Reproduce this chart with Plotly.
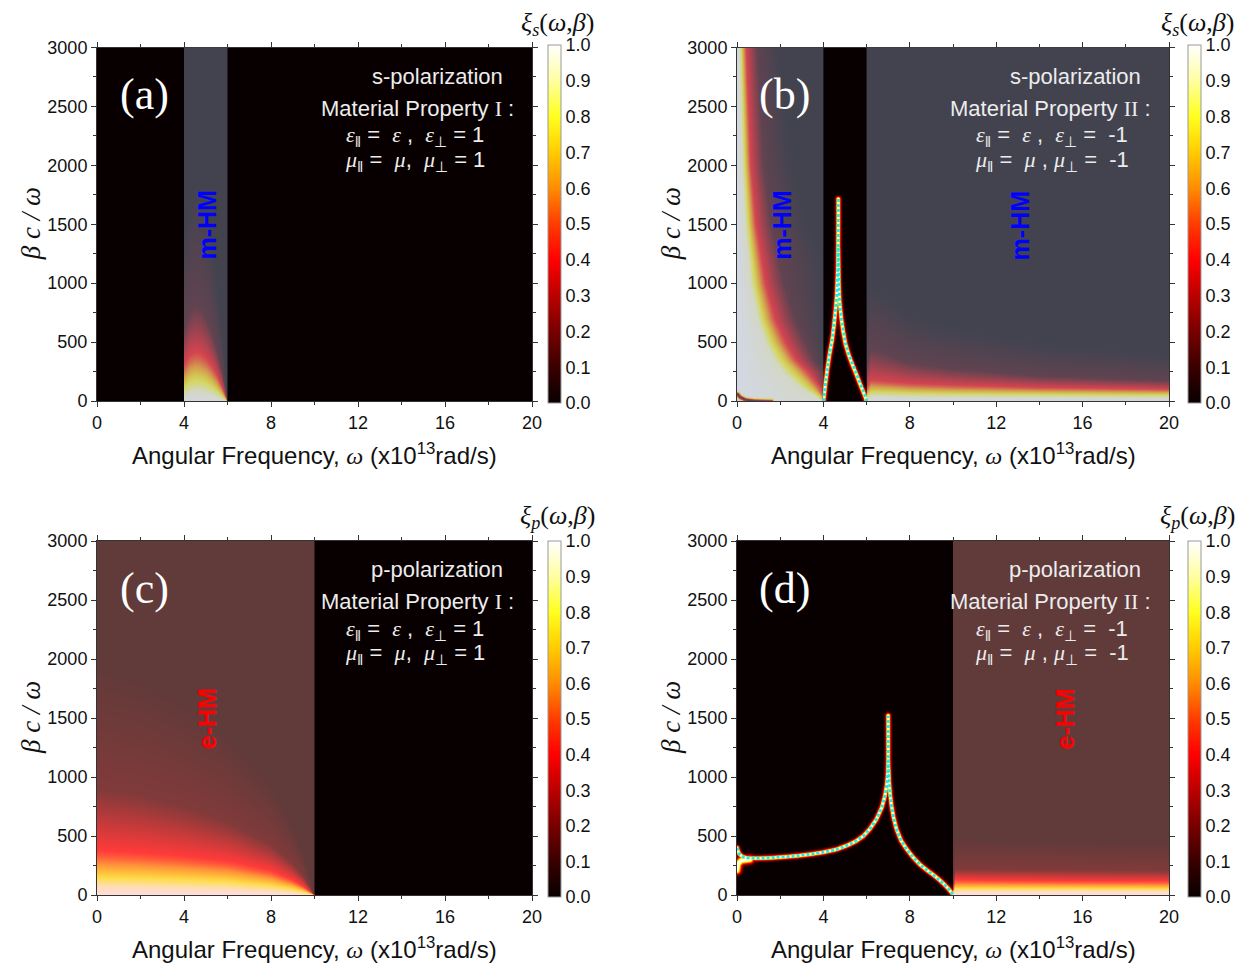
import numpy as np
import plotly.graph_objects as go

# ---------------- values ----------------
OMEGA_TICKS = [0, 4, 8, 12, 16, 20]
BETA_TICKS = [0, 500, 1000, 1500, 2000, 2500, 3000]
CBAR_TICKS = [0.0, 0.1, 0.2, 0.3, 0.4, 0.5, 0.6, 0.7, 0.8, 0.9, 1.0]
LEVELS = [0.95, 0.7, 0.4, 0.1]          # xi levels whose contour positions were read

# (a) s-pol, property I : bright arch inside the m-HM band 4..6 (beta of each level per omega column)
A_OMEGA = [4.0, 4.25, 4.5, 4.75, 5.0, 5.25, 5.5, 5.75, 6.0]
A_HEIGHTS = [[45, 170, 330, 620], [70, 230, 400, 760], [80, 250, 430, 820], [80, 240, 420, 800],
             [70, 220, 380, 720], [60, 180, 320, 600], [40, 130, 240, 450], [20, 70, 130, 260],
             [0, 0, 0, 0]]

# (b) s-pol, property II : left m-HM band (omega of each level per beta row)
B_LEFT_BETA = [0, 50, 120, 250, 350, 500, 700, 1000, 1500, 2000, 3000]
B_LEFT_OMEGA = [[4.0, 4.0, 4.0, 4.0], [3.6, 3.9, 4.0, 4.0], [2.9, 3.5, 3.9, 4.0], [2.1, 2.8, 3.35, 4.0],
                [1.7, 2.3, 2.8, 3.6], [1.3, 1.8, 2.3, 3.2], [0.95, 1.35, 1.8, 2.7],
                [0.62, 0.97, 1.35, 2.2], [0.38, 0.62, 0.9, 1.6], [0.25, 0.44, 0.65, 1.25],
                [0.12, 0.26, 0.44, 0.95]]
B_DIP = [[0.03, 65], [0.15, 40], [0.4, 18], [0.8, 8], [1.6, 3]]
# (b) right m-HM band 6..20 (beta of each level per omega column)
B_RIGHT_OMEGA = [6.0, 6.2, 7.0, 8.0, 10.0, 14.0, 20.0]
B_RIGHT_HEIGHTS = [[20, 60, 120, 300], [45, 110, 190, 450], [45, 105, 175, 400], [42, 95, 160, 330],
                   [40, 88, 145, 280], [38, 80, 125, 220], [35, 72, 110, 180]]
# (b) resonance curve between 4 and 6
B_CURVE_LEFT = [[4.0, 0], [4.08, 130], [4.17, 264], [4.28, 400], [4.4, 520], [4.49, 650], [4.56, 776],
                [4.61, 890], [4.64, 1000], [4.67, 1150], [4.68, 1300], [4.69, 1500], [4.69, 1720]]
B_CURVE_RIGHT = [[4.69, 1300], [4.70, 1150], [4.71, 1003], [4.75, 850], [4.82, 719], [4.91, 600],
                 [5.02, 492], [5.17, 400], [5.33, 321], [5.49, 250], [5.64, 179], [5.80, 105],
                 [5.95, 37], [6.0, 0]]

# (c) p-pol, property I : e-HM band 0..10
C_OMEGA = [0, 2, 4, 6, 8, 9, 9.5, 10]
C_HEIGHTS = [[60, 200, 380, 900], [55, 190, 360, 850], [50, 175, 330, 750], [45, 155, 290, 620],
             [30, 110, 210, 430], [18, 70, 130, 270], [8, 40, 75, 160], [0, 0, 0, 0]]

# (d) p-pol, property II : e-HM band 10..20 and resonance curve 0..10
D_OMEGA = [10.0, 10.1, 12, 16, 20]
D_HEIGHTS = [[5, 15, 30, 60], [30, 70, 130, 220], [30, 70, 125, 215], [30, 68, 120, 210], [28, 65, 118, 205]]
D_CURVE_LEFT = [[0.0, 400], [0.05, 370], [0.1, 350], [0.2, 332], [0.3, 322], [0.45, 315], [0.6, 312],
                [0.9, 311], [1.2, 312], [1.6, 315], [2.0, 320], [2.4, 326], [2.8, 332], [3.4, 345],
                [4.0, 362], [4.6, 386], [5.1, 420], [5.5, 455], [5.85, 500], [6.15, 560], [6.45, 640],
                [6.7, 740], [6.85, 840], [6.93, 930], [6.97, 1000], [6.99, 1080], [7.0, 1150],
                [7.0, 1520]]
D_CURVE_RIGHT = [[7.0, 1150], [7.02, 1050], [7.04, 960], [7.09, 850], [7.15, 760], [7.25, 655],
                 [7.38, 560], [7.6, 460], [7.85, 390], [8.15, 320], [8.46, 260], [8.78, 212],
                 [9.08, 172], [9.33, 135], [9.54, 100], [9.78, 55], [10.0, 5]]
D_EDGE_GLOW = [[0.0, 210], [0.05, 265], [0.2, 292], [0.6, 302]]

# ---------------- grid (one cell per screen pixel) ----------------
NX, NY = 432, 354
PX_PER_OMEGA = 21.6
PX_PER_BETA = 354 / 3000
xs = (np.arange(NX) + 0.5) * 20 / NX
ys = (np.arange(NY) + 0.5) * 3000 / NY
X, Y = np.meshgrid(xs, ys)
PX, PY = X * PX_PER_OMEGA, Y * PX_PER_BETA


def column_field(cols, heights, w0, w1):
    z = np.zeros((NY, NX))
    H = np.array(heights, float).T
    lv = [1.0] + LEVELS + [0.0]
    for j, x in enumerate(xs):
        if x < w0 or x > w1:
            continue
        h = [np.interp(x, cols, H[k]) for k in range(4)]
        if h[-1] <= 1:
            continue
        bp = np.maximum.accumulate(np.array([0.0] + h + [2.2 * h[-1]]) + np.arange(6) * 1e-3)
        z[:, j] = np.interp(ys, bp, lv)
    return z


def row_field(rows, omegas, w1):
    z = np.zeros((NY, NX))
    W = np.array(omegas, float).T
    lv = [1.0] + LEVELS + [0.0]
    for i, y in enumerate(ys):
        w = [np.interp(y, rows, W[k]) for k in range(4)]
        bp = np.maximum.accumulate(np.array([0.0] + w + [min(2.0 * w[-1], w1 + 0.01)]) + np.arange(6) * 1e-4)
        z[i, :] = np.interp(xs, bp, lv)
    z[X >= w1] = 0
    return z


def poly_dist(pts):
    P = np.array(pts, float)
    sx, sy = P[:, 0] * PX_PER_OMEGA, P[:, 1] * PX_PER_BETA
    d = np.full(PX.shape, np.inf)
    for i in range(len(P) - 1):
        ax, ay, bx, by = sx[i], sy[i], sx[i + 1], sy[i + 1]
        dx, dy = bx - ax, by - ay
        L2 = max(dx * dx + dy * dy, 1e-9)
        t = np.clip(((PX - ax) * dx + (PY - ay) * dy) / L2, 0, 1)
        d = np.minimum(d, np.hypot(PX - ax - t * dx, PY - ay - t * dy))
    return d


def glow(pts, sigma=2.4):
    return np.exp(-(poly_dist(pts) / sigma) ** 2)


# panel fields
Za = column_field(A_OMEGA, A_HEIGHTS, 4.0, 6.0)

Zb = row_field(B_LEFT_BETA, B_LEFT_OMEGA, 4.0)
Zb *= 1 - 0.9 * np.exp(-(poly_dist(B_DIP) / 2.0) ** 2) * (X < 4)
Zb = np.maximum(Zb, column_field(B_RIGHT_OMEGA, B_RIGHT_HEIGHTS, 6.0, 20.0))
gb = np.maximum(glow(B_CURVE_LEFT), glow(B_CURVE_RIGHT))
gb[(X < 4) | (X > 6)] = 0
Zb = np.maximum(Zb, gb)

Zc = column_field(C_OMEGA, C_HEIGHTS, 0.0, 10.0)

Zd = column_field(D_OMEGA, D_HEIGHTS, 10.0, 20.0)
gd = np.maximum.reduce([glow(D_CURVE_LEFT), glow(D_CURVE_RIGHT), glow(D_EDGE_GLOW, 4.0)])
gd[X > 10] = 0
Zd = np.maximum(Zd, gd)

# ---------------- figure ----------------
HOT = [[0.0, "#080000"], [0.1, "#3a0000"], [0.2, "#780000"], [0.3, "#bb0000"], [0.4, "#ff0000"],
       [0.5, "#ff3c00"], [0.6, "#ff8c00"], [0.7, "#ffcc00"], [0.8, "#ffff1e"], [0.9, "#ffffa0"],
       [1.0, "#ffffff"]]

OFF = 8                      # page body margin of the browser
W, H_ = 1251 - OFF, 964 - OFF


def px(x):
    return (x - OFF) / W


def py(y):
    return 1 - (y - OFF) / H_


PANELS = {  # left, right, top, bottom (reference pixels)
    "a": (97, 532, 47.5, 401),
    "b": (737, 1169, 47.5, 401),
    "c": (97, 532, 541, 895),
    "d": (737, 1169, 541, 895),
}
CBAR = {"a": (548, 45, 403), "b": (1188, 45, 403), "c": (548, 541, 897), "d": (1188, 541, 897)}

fig = go.Figure()
SANS = "Liberation Sans"
SERIF = "Liberation Serif"
tickfont = dict(family=SANS, size=18, color="#111")

for k, (key, Z) in enumerate(zip("abcd", [Za, Zb, Zc, Zd])):
    cx, ct, cb = CBAR[key]
    fig.add_trace(go.Heatmap(
        x=xs, y=ys, z=np.round(Z, 3).astype(np.float32), zmin=0, zmax=1, colorscale=HOT,
        xaxis=f"x{k + 1}", yaxis=f"y{k + 1}", hoverinfo="skip",
        colorbar=dict(x=px(cx), xanchor="left", xpad=0, ypad=0, y=py((ct + cb) / 2), yanchor="middle",
                      len=(cb - ct) / H_, lenmode="fraction", thickness=13, outlinewidth=1,
                      outlinecolor="#999", tickvals=CBAR_TICKS, ticktext=[f"{v:.1f}" for v in CBAR_TICKS],
                      ticks="", tickfont=tickfont)))

for key, curves, ax in [("b", [B_CURVE_LEFT, B_CURVE_RIGHT], 2), ("d", [D_CURVE_LEFT, D_CURVE_RIGHT], 4)]:
    for c in curves:
        P = np.array(c)
        fig.add_trace(go.Scatter(x=P[:, 0], y=P[:, 1], mode="lines", xaxis=f"x{ax}", yaxis=f"y{ax}",
                                 line=dict(color="#22e8e8", width=3, dash="3px,2px"),
                                 hoverinfo="skip", showlegend=False))

layout = dict(width=W, height=H_, margin=dict(l=0, r=0, t=0, b=0, autoexpand=False), paper_bgcolor="white",
              plot_bgcolor="black", showlegend=False)
for k, key in enumerate("abcd"):
    l, r, t, b = PANELS[key]
    n = "" if k == 0 else str(k + 1)
    layout[f"xaxis{n}"] = dict(domain=[px(l), px(r)], range=[0, 20], anchor=f"y{k + 1}", tickvals=OMEGA_TICKS,
                               ticks="outside", ticklen=5, tickcolor="#333", showline=True, linecolor="#333",
                               mirror="allticks", showgrid=False, zeroline=False, tickfont=tickfont,
                               minor=dict(tick0=0, dtick=2, ticks="outside", ticklen=3, tickcolor="#333"))
    layout[f"yaxis{n}"] = dict(domain=[py(b), py(t)], range=[0, 3000], anchor=f"x{k + 1}",
                               tickvals=BETA_TICKS, ticks="outside", ticklen=5, tickcolor="#333",
                               showline=True, linecolor="#333", mirror="allticks", showgrid=False,
                               zeroline=False, tickfont=tickfont,
                               minor=dict(tick0=0, dtick=250, ticks="outside", ticklen=3, tickcolor="#333"))
fig.update_layout(**layout)

GRAY = "rgba(150,160,190,0.42)"
BROWN = "rgba(255,160,160,0.36)"
OVERLAYS = [(1, 4, 6, GRAY), (2, 0, 4, GRAY), (2, 6, 20, GRAY), (3, 0, 10, BROWN), (4, 10, 20, BROWN)]
for ax, x0, x1, col in OVERLAYS:
    fig.add_shape(type="rect", xref=f"x{ax}", yref=f"y{ax}", x0=x0, x1=x1, y0=0, y1=3000,
                  fillcolor=col, line=dict(width=0), layer="above")

NB = "\u00a0"
TXT = "#ececec"


def ser(s, italic=True):
    inner = f"<i>{s}</i>" if italic else s
    return f"<span style='font-family:{SERIF}'>{inner}</span>"


S2 = NB * 2
EPS1 = f"{ser('ε')}<sub>‖</sub>{NB}={S2}{ser('ε')}{NB},{S2}{ser('ε')}<sub>⊥</sub>{NB}={NB}1"
MU1 = f"{ser('μ')}<sub>‖</sub>{NB}={S2}{ser('μ')},{S2}{ser('μ')}<sub>⊥</sub>{NB}={NB}1"
EPS2 = f"{ser('ε')}<sub>‖</sub>{NB}={S2}{ser('ε')}{NB},{S2}{ser('ε')}<sub>⊥</sub>{NB}={S2}-1"
MU2 = f"{ser('μ')}<sub>‖</sub>{NB}={S2}{ser('μ')}{NB},{NB}{ser('μ')}<sub>⊥</sub>{NB}={S2}-1"

PANEL_TEXT = {
    "a": ("(a)", "s-polarization", "I", EPS1, MU1),
    "b": ("(b)", "s-polarization", "II", EPS2, MU2),
    "c": ("(c)", "p-polarization", "I", EPS1, MU1),
    "d": ("(d)", "p-polarization", "II", EPS2, MU2),
}
C = dict(xanchor="center", yanchor="middle", showarrow=False)
ann = []
for k, key in enumerate("abcd"):
    l, r, t, b = PANELS[key]
    lab, pol, roman, eps, mu = PANEL_TEXT[key]
    xr, yr = f"x{k + 1}", f"y{k + 1}"
    ann.append(dict(x=2.2, y=2600, xref=xr, yref=yr, text=lab, **C,
                    font=dict(family=SERIF, size=44, color="white")))
    ann.append(dict(x=15.65, y=2755, xref=xr, yref=yr, text=pol, **C,
                    font=dict(family=SANS, size=22, color=TXT)))
    ann.append(dict(x=19.25, y=2485, xref=xr, yref=yr, xanchor="right", yanchor="middle", showarrow=False,
                    text=f"Material Property {ser(roman, False)} :",
                    font=dict(family=SANS, size=22, color=TXT)))
    ann.append(dict(x=14.6, y=2250, xref=xr, yref=yr, text=eps, **C,
                    font=dict(family=SANS, size=22, color=TXT)))
    ann.append(dict(x=14.6, y=2040, xref=xr, yref=yr, text=mu, **C,
                    font=dict(family=SANS, size=22, color=TXT)))
    # axis titles
    ann.append(dict(x=px((l + r) / 2), y=py(b + 53), xref="paper", yref="paper",
                    text=f"Angular Frequency, {ser('ω')} (x10<sup>13</sup>rad/s)", **C,
                    font=dict(family=SANS, size=24, color="#111")))
    ann.append(dict(x=px(l - 66), y=py((t + b) / 2), xref="paper", yref="paper", textangle=-90,
                    text="<i>β c / ω</i>", **C, font=dict(family=SERIF, size=27, color="#111")))
    sub = "s" if key in "ab" else "p"
    ann.append(dict(x=px(l + 460), y=py(t - 24), xref="paper", yref="paper",
                    text=f"<i>ξ<sub>{sub}</sub></i>(<i>ω</i>,<i>β</i>)", **C,
                    font=dict(family=SERIF, size=26, color="#111")))

HM_LABELS = [(1, 5.06, "m-HM", "#0000ff"), (2, 2.1, "m-HM", "#0000ff"), (2, 13.1, "m-HM", "#0000ff"),
             (3, 5.06, "e-HM", "#ff0000"), (4, 15.2, "e-HM", "#ff0000")]
for ax, x, txt, col in HM_LABELS:
    ann.append(dict(x=x, y=1490, xref=f"x{ax}", yref=f"y{ax}", text=f"<b>{txt}</b>", textangle=-90,
                    **C, font=dict(family=SANS, size=25, color=col)))
fig.update_layout(annotations=ann)

fig.write_html("out.html")
